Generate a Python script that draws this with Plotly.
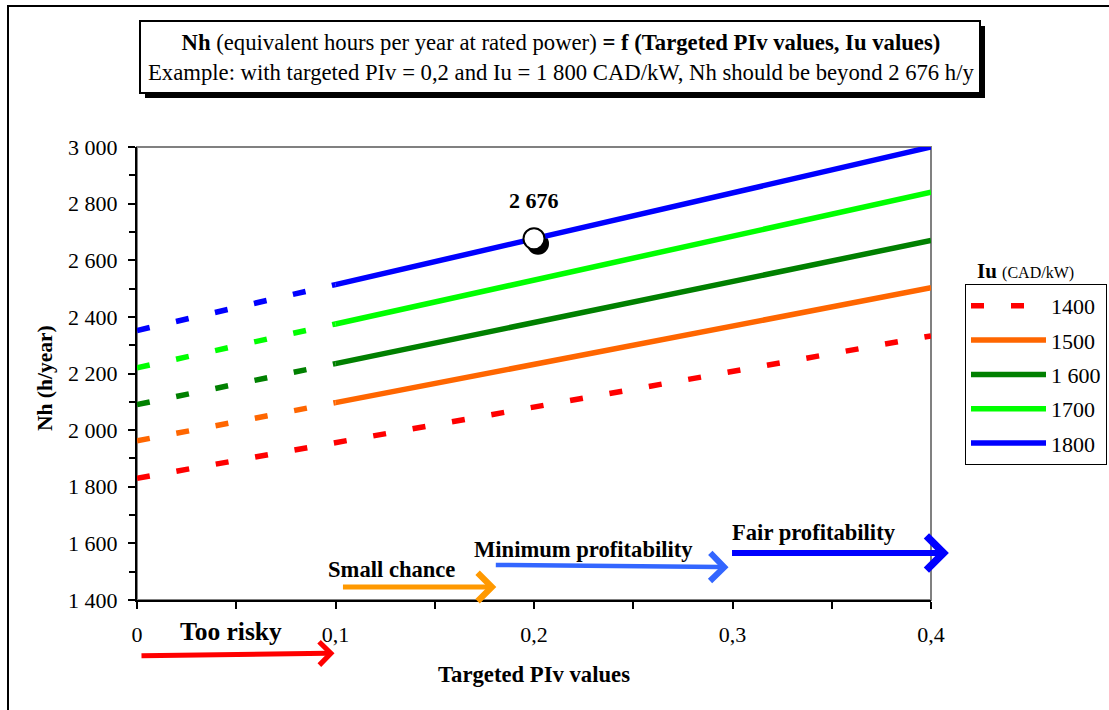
import plotly.graph_objects as go

# ---------------- data ----------------
PIV = [0.0, 0.1, 0.2, 0.3, 0.4]
IU_LABELS = ["1400", "1500", "1 600", "1700", "1800"]
NH_1400 = [1830, 1955, 2082, 2207, 2333]
NH_1500 = [1962, 2097, 2232, 2367, 2503]
NH_1600 = [2090, 2235, 2380, 2525, 2670]
NH_1700 = [2220, 2375, 2530, 2685, 2840]
NH_1800 = [2352, 2514, 2676, 2838, 3000]

EX_PIV = 0.2
EX_NH = 2676
EX_LABEL = "2 676"

ZONE_LABELS = ["Too risky", "Small chance", "Minimum profitability", "Fair profitability"]
ZONE_X_START = [0.0015, 0.103, 0.180, 0.299]
ZONE_X_END = [0.0995, 0.181, 0.298, 0.409]
ZONE_Y_START = [1203, 1446, 1524, 1566]
ZONE_Y_END = [1212, 1446, 1516, 1566]
ZONE_TEXT_X = [0.0474, 0.128, 0.2247, 0.3413]
ZONE_TEXT_Y = [1290, 1506, 1580, 1637]

TITLE_L1 = "<b>Nh</b> (equivalent hours per year at rated power) <b>= f (Targeted PIv values, Iu values)</b>"
TITLE_L2 = "Example: with targeted PIv = 0,2 and Iu = 1 800 CAD/kW, Nh should be beyond 2 676 h/y"
X_TITLE = "Targeted PIv values"
Y_TITLE = "Nh (h/year)"

Y_MIN, Y_MAX = 1400, 3000
X_MIN, X_MAX = 0.0, 0.4

# ---------------- style ----------------
FONT = "Liberation Serif"
SERIES_COLORS = ["#FF0000", "#FF6600", "#008000", "#00FF00", "#0000FF"]
ZONE_COLORS = ["#FF0000", "#FF9900", "#3366FF", "#0000FF"]
ZONE_WIDTHS = [5, 5, 4.5, 6]
ZONE_SIZES = [0.9, 1.1, 1.2, 1.1]
DASH = "13px,27px"

W, H = 1109, 710
L, R, T, B = 137, 178, 147, 110
PW, PH = W - L - R, H - T - B


def px(xp):
    return (xp - L) / PW


def py(yp):
    return (H - B - yp) / PH


def ydom(v):
    # fraction of the y-axis domain for a data value (for marks drawn below the axis)
    return (v - Y_MIN) / (Y_MAX - Y_MIN)


fig = go.Figure()
series = [NH_1400, NH_1500, NH_1600, NH_1700, NH_1800]
for lab, nh, col in zip(IU_LABELS, series, SERIES_COLORS):
    if lab == "1400":
        fig.add_trace(go.Scatter(x=PIV, y=nh, mode="lines", name=lab, legendgroup=lab,
                                 line=dict(color=col, width=5.5, dash=DASH)))
    else:
        fig.add_trace(go.Scatter(x=PIV[:2], y=nh[:2], mode="lines", name=lab, legendgroup=lab,
                                 showlegend=False, line=dict(color=col, width=5.5, dash=DASH)))
        fig.add_trace(go.Scatter(x=PIV[1:], y=nh[1:], mode="lines", name=lab, legendgroup=lab,
                                 line=dict(color=col, width=5.5)))

fig.add_trace(go.Scatter(x=[EX_PIV], y=[EX_NH], mode="markers", showlegend=False,
                         cliponaxis=False,
                         marker=dict(size=21, color="white", line=dict(color="black", width=2))))

shapes = [
    dict(type="rect", xref="paper", yref="paper", x0=px(8), x1=px(1130), y0=py(730), y1=py(6),
         line=dict(color="black", width=2), layer="below"),
    dict(type="rect", xref="paper", yref="paper", x0=0, x1=1, y0=0, y1=1,
         line=dict(color="#808080", width=2), layer="below"),
    dict(type="rect", xref="paper", yref="paper", x0=px(145), x1=px(985), y0=py(98), y1=py(26),
         fillcolor="black", line=dict(width=0), layer="above"),
    dict(type="rect", xref="paper", yref="paper", x0=px(140), x1=px(980), y0=py(93), y1=py(21),
         fillcolor="white", line=dict(color="black", width=2), layer="above"),
    dict(type="circle", xref="x", yref="y", xsizemode="pixel", ysizemode="pixel",
         xanchor=EX_PIV, yanchor=EX_NH, x0=-7, x1=15, y0=-16, y1=6,
         fillcolor="black", line=dict(width=0), layer="below"),
]

ann = [
    dict(xref="paper", yref="paper", x=px(561), y=py(57), text=TITLE_L1 + "<br>" + TITLE_L2,
         showarrow=False, xanchor="center", yanchor="middle", align="center",
         font=dict(family=FONT, size=22.7, color="black")),
    dict(xref="paper", yref="paper", x=px(45), y=py(378), text="<b>" + Y_TITLE + "</b>",
         textangle=-90, showarrow=False, xanchor="center", yanchor="middle",
         font=dict(family=FONT, size=21.5, color="black")),
    dict(xref="paper", yref="paper", x=px(534), y=py(674), text="<b>" + X_TITLE + "</b>",
         showarrow=False, xanchor="center", yanchor="middle",
         font=dict(family=FONT, size=22.7, color="black")),
    dict(xref="paper", yref="paper", x=px(975), y=py(271),
         text="<b>Iu</b> <span style='font-size:16px'>(CAD/kW)</span>",
         showarrow=False, xanchor="left", yanchor="middle",
         font=dict(family=FONT, size=21, color="black")),
    dict(xref="x", yref="y", x=EX_PIV, y=EX_NH, text="<b>" + EX_LABEL + "</b>", showarrow=False,
         yshift=38, xanchor="center", yanchor="middle",
         font=dict(family=FONT, size=22, color="black")),
]

for i, lab in enumerate(ZONE_LABELS):
    ann.append(dict(xref="x", yref="y domain", axref="x", ayref="y domain",
                    x=ZONE_X_END[i], y=ydom(ZONE_Y_END[i]),
                    ax=ZONE_X_START[i], ay=ydom(ZONE_Y_START[i]),
                    text="", showarrow=True, arrowhead=4, arrowsize=ZONE_SIZES[i],
                    arrowwidth=ZONE_WIDTHS[i], arrowcolor=ZONE_COLORS[i], standoff=0, startstandoff=0))
    ann.append(dict(xref="x", yref="y domain", x=ZONE_TEXT_X[i], y=ydom(ZONE_TEXT_Y[i]),
                    text="<b>" + lab + "</b>", showarrow=False, xanchor="center", yanchor="middle",
                    font=dict(family=FONT, size=25.5 if i == 0 else 22.6, color="black")))

fig.update_layout(
    width=W, height=H,
    margin=dict(l=L, r=R, t=T, b=B, autoexpand=False),
    paper_bgcolor="white", plot_bgcolor="white",
    separators=", ",
    font=dict(family=FONT, size=22, color="black"),
    shapes=shapes, annotations=ann,
    showlegend=True,
    legend=dict(x=px(965), y=py(284), xanchor="left", yanchor="top",
                bordercolor="black", borderwidth=1, bgcolor="white",
                traceorder="grouped", tracegroupgap=2.7, itemwidth=75,
                entrywidth=160, entrywidthmode="pixels",
                font=dict(family=FONT, size=22, color="black")),
    xaxis=dict(range=[X_MIN, X_MAX], dtick=0.1, tick0=0, showgrid=False, zeroline=False,
               showline=True, linecolor="black", linewidth=2,
               ticks="outside", ticklen=7, tickwidth=1.5, tickcolor="black",
               ticklabelstandoff=7,
               minor=dict(dtick=0.05, ticks="outside", ticklen=7, tickwidth=1.5, tickcolor="black"),
               tickfont=dict(family=FONT, size=22, color="black")),
    yaxis=dict(range=[Y_MIN, Y_MAX], dtick=200, tick0=1400, tickformat=",d", showgrid=False,
               zeroline=False, showline=True, linecolor="black", linewidth=2,
               ticks="outside", ticklen=7, tickwidth=1.5, tickcolor="black",
               ticklabelstandoff=6,
               minor=dict(dtick=100, ticks="outside", ticklen=6, tickwidth=1.5, tickcolor="black"),
               tickfont=dict(family=FONT, size=22, color="black")),
)

fig.write_html("out.html", config={"displayModeBar": False},
               post_script="document.body.style.margin='0';document.body.style.overflow='hidden';")
